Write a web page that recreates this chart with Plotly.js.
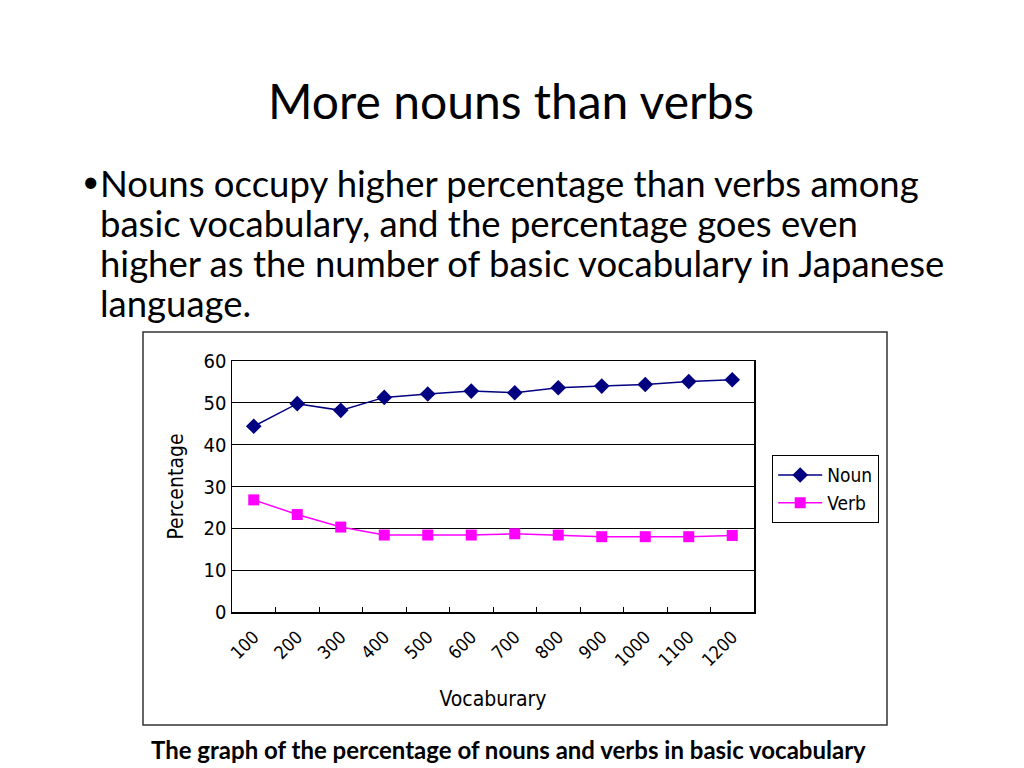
<!DOCTYPE html>
<html>
<head>
<meta charset="utf-8">
<script src="https://cdn.plot.ly/plotly-3.0.1.min.js"></script>
<style>
  html, body { margin: 0; padding: 0; background: #fff; }
  #chart { width: 1024px; height: 768px; }
</style>
</head>
<body>
<div id="chart"></div>
<script>
// vocabulary sizes and share of each part of speech (%)
const vocab = ['100', '200', '300', '400', '500', '600', '700', '800', '900', '1000', '1100', '1200'];
const nounPct = [44.4, 49.8, 48.2, 51.3, 52.1, 52.8, 52.4, 53.6, 54.0, 54.4, 55.1, 55.5];
const verbPct = [26.8, 23.3, 20.3, 18.4, 18.4, 18.4, 18.7, 18.4, 18.0, 18.0, 18.0, 18.3];

const slideTitle = 'More nouns than verbs';
const bulletLines = [
  'Nouns occupy higher percentage than verbs among',
  'basic vocabulary, and the percentage goes even',
  'higher as the number of basic vocabulary in Japanese',
  'language.'
];
const caption = 'The graph of the percentage of nouns and verbs in basic vocabulary';

const W = 1024, H = 768;
const px = x => x / W;
const py = y => 1 - y / H;

const bodyFont = 'Lato, "Open Sans", sans-serif';
const chartFont = '"Liberation Sans Narrow", "DejaVu Sans Condensed", "Liberation Sans", sans-serif';

const traces = [
  {
    x: vocab, y: nounPct, name: 'Noun',
    type: 'scatter', mode: 'lines+markers',
    line: {color: '#000080', width: 1.5},
    marker: {symbol: 'diamond', size: 12, color: '#000080'}
  },
  {
    x: vocab, y: verbPct, name: 'Verb',
    type: 'scatter', mode: 'lines+markers',
    line: {color: '#FF00FF', width: 1.5},
    marker: {symbol: 'square', size: 11, color: '#FF00FF'}
  }
];

const annotations = [
  {text: slideTitle, x: px(511), y: py(100), xanchor: 'center', yanchor: 'middle',
   font: {family: bodyFont, size: 48, color: '#000'}},
  {text: '•', x: px(90), y: py(180), xanchor: 'center', yanchor: 'middle',
   font: {family: bodyFont, size: 30, color: '#000'}},
  {text: caption, x: px(508), y: py(749), xanchor: 'center', yanchor: 'middle',
   font: {family: bodyFont, size: 24, color: '#000', weight: 'bold'}}
];
bulletLines.forEach((line, i) => {
  annotations.push({
    text: line, x: px(99), y: py(183 + i * 40), xanchor: 'left', yanchor: 'middle',
    borderpad: 0,
    font: {family: bodyFont, size: 36.5, color: '#000'}
  });
});
annotations.forEach(a => { a.xref = 'paper'; a.yref = 'paper'; a.showarrow = false; });

const layout = {
  width: W, height: H,
  margin: {l: 0, r: 0, t: 0, b: 0},
  paper_bgcolor: '#fff', plot_bgcolor: '#fff',
  font: {family: chartFont, color: '#000'},
  xaxis: {
    domain: [px(232), px(754)],
    type: 'category', range: [-0.5, 11.5],
    showline: true, linecolor: '#000', linewidth: 1.5, mirror: true,
    showgrid: false, zeroline: false,
    ticks: 'inside', tickson: 'boundaries', ticklen: 5, tickcolor: '#000',
    tickangle: -45, ticklabelstandoff: 6,
    tickfont: {family: chartFont, size: 18},
    title: {text: 'Vocaburary', font: {family: chartFont, size: 21}, standoff: 22}
  },
  yaxis: {
    domain: [py(612), py(361)],
    range: [0, 60], dtick: 10,
    showline: true, linecolor: '#000', linewidth: 1.5, mirror: true,
    showgrid: true, gridcolor: '#000', gridwidth: 1.2, zeroline: false,
    ticks: '', ticklen: 0,
    tickfont: {family: chartFont, size: 20},
    title: {text: 'Percentage', font: {family: chartFont, size: 21}, standoff: 14}
  },
  legend: {
    x: px(772), y: py(455), xanchor: 'left', yanchor: 'top',
    bordercolor: '#000', borderwidth: 1.2, bgcolor: '#fff',
    font: {family: chartFont, size: 19}, tracegroupgap: 0, itemwidth: 44
  },
  shapes: [
    {type: 'rect', xref: 'paper', yref: 'paper',
     x0: px(143), x1: px(887), y0: py(725), y1: py(332),
     line: {color: '#333', width: 1.5}, fillcolor: 'rgba(0,0,0,0)', layer: 'below'}
  ],
  annotations: annotations
};

Plotly.newPlot('chart', traces, layout, {displayModeBar: false, staticPlot: true});
</script>
</body>
</html>
